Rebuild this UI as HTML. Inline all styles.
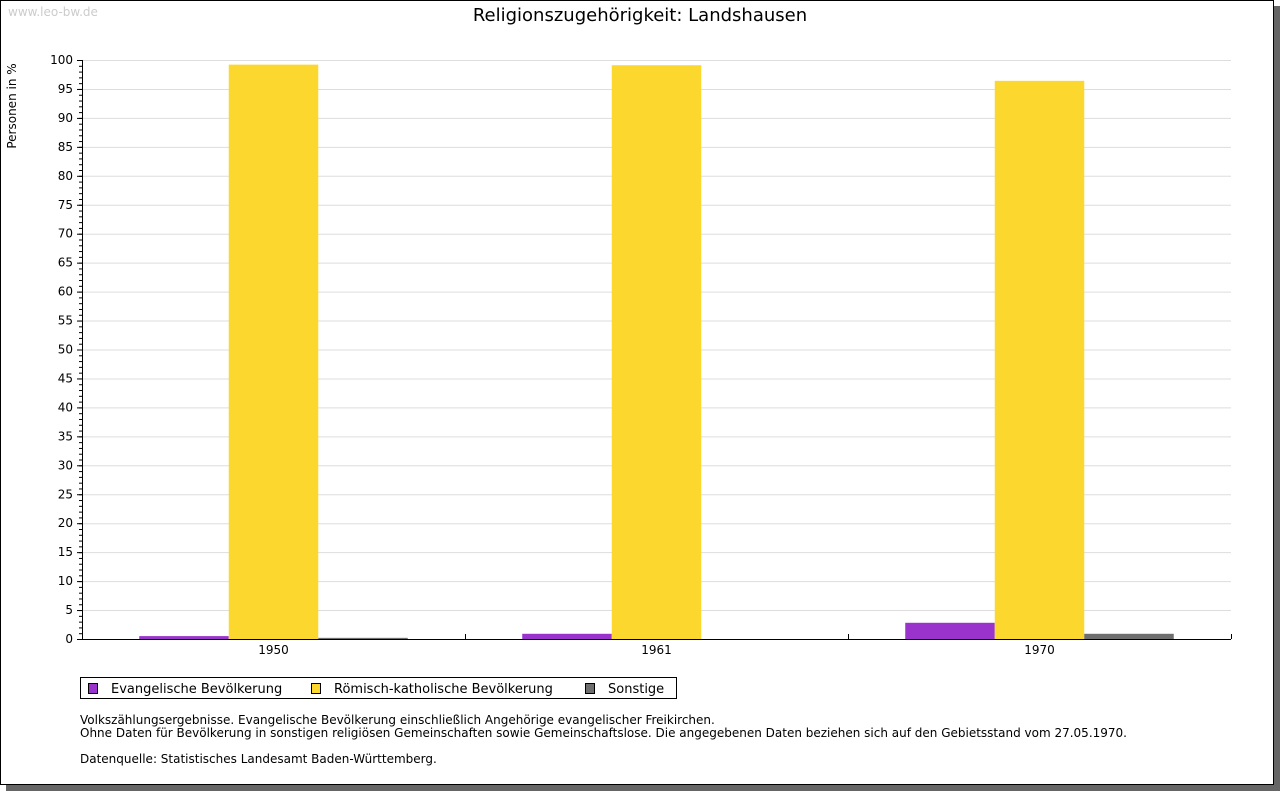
<!DOCTYPE html>
<html><head><meta charset="utf-8"><style>
body{margin:0;background:#fff;width:1280px;height:791px;overflow:hidden;font-family:"DejaVu Sans","Liberation Sans",sans-serif}
</style></head><body>
<svg id="c" width="1280" height="791" xmlns="http://www.w3.org/2000/svg">
<rect x="6" y="6" width="1274" height="785" fill="#666"/>
<rect x="0.5" y="0.5" width="1273" height="784" fill="#fff" stroke="#000"/>
<text x="8" y="16" font-size="12" fill="#ccc">www.leo-bw.de</text>
<text x="640" y="21" font-size="18" text-anchor="middle" fill="#000">Religionszugehörigkeit: Landshausen</text>
<text transform="translate(16,106) rotate(-90)" font-size="12" text-anchor="middle">Personen in %</text>
<g id="grid"></g><g id="bars"></g><g id="axes"></g>
<g>
<rect x="80.5" y="677.5" width="596" height="21" fill="#fff" stroke="#000"/>
<rect x="88.5" y="683.5" width="9" height="10" fill="#9933cc" stroke="#000"/>
<text x="111" y="693" font-size="13">Evangelische Bevölkerung</text>
<rect x="311.5" y="683.5" width="9" height="10" fill="#fcd72e" stroke="#000"/>
<text x="334" y="693" font-size="13">Römisch-katholische Bevölkerung</text>
<rect x="585.5" y="683.5" width="9" height="10" fill="#6e6e6e" stroke="#000"/>
<text x="608" y="693" font-size="13">Sonstige</text>
</g>
<g font-size="12">
<text x="80" y="724">Volkszählungsergebnisse. Evangelische Bevölkerung einschließlich Angehörige evangelischer Freikirchen.</text>
<text x="80" y="737">Ohne Daten für Bevölkerung in sonstigen religiösen Gemeinschaften sowie Gemeinschaftslose. Die angegebenen Daten beziehen sich auf den Gebietsstand vom 27.05.1970.</text>
<text x="80" y="763">Datenquelle: Statistisches Landesamt Baden-Württemberg.</text>
</g>
</svg>
<script>
const categories=["1950","1961","1970"];
const evangelisch=[0.5,0.9,2.8];
const katholisch=[99.2,99.1,96.4];
const sonstige=[0.2,0,0.9];
const yTicks=[0,5,10,15,20,25,30,35,40,45,50,55,60,65,70,75,80,85,90,95,100];
const NS="http://www.w3.org/2000/svg";
const X0=82,X1=1231,Y0=639,Y1=60;
const y=v=>Y0-(v/100)*(Y0-Y1);
const gw=(X1-X0)/categories.length;
function mk(t,a,p){const e=document.createElementNS(NS,t);for(const k in a)e.setAttribute(k,a[k]);p.appendChild(e);return e;}
const grid=document.getElementById('grid'),bars=document.getElementById('bars'),axes=document.getElementById('axes');
yTicks.forEach(v=>{
 if(v>0){const l=mk('line',{x1:X0,x2:X1,y1:y(v)+.5,y2:y(v)+.5,stroke:'#ddd'},grid);
 
 }
 const t=mk('text',{x:X0-9,y:y(v)+4,'font-size':12,'text-anchor':'end'},axes);t.textContent=v;
 
 
 mk('line',{x1:X0-5,x2:X0,y1:y(v)+.5,y2:y(v)+.5,stroke:'#000'},axes);
});
for(let v=0;v<=100;v++)mk('line',{x1:X0-3,x2:X0,y1:y(v)+.5,y2:y(v)+.5,stroke:'#000'},axes);
mk('line',{x1:X0+.5,x2:X0+.5,y1:Y1,y2:Y0,stroke:'#000'},axes);
mk('line',{x1:X0,x2:X1,y1:Y0+.5,y2:Y0+.5,stroke:'#000'},axes);
const series=[[evangelisch,'#9933cc','evangelisch'],[katholisch,'#fcd72e','katholisch'],[sonstige,'#6e6e6e','sonstige']];
const bw=89.5;
categories.forEach((c,i)=>{
 const cx=X0+gw*(i+.5);
 series.forEach(([vals,col,n],j)=>{
  const v=vals[i];if(v<=0)return;
  const r=mk('rect',{x:cx-1.5*bw+j*bw,y:y(v),width:bw,height:Y0-y(v),fill:col},bars);
  
  
 });
 const t=mk('text',{x:cx,y:Y0+15,'font-size':12,'text-anchor':'middle'},axes);t.textContent=c;
 
 
 const tx=Math.round(X0+gw*(i+1))+.5;
 mk('line',{x1:tx,x2:tx,y1:Y0-5,y2:Y0,stroke:'#000'},axes);
});
</script>
</body></html>
